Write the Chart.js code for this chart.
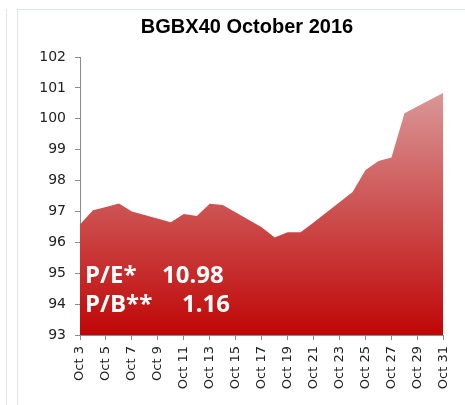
<!DOCTYPE html>
<html>
<head>
<meta charset="utf-8">
<script src="https://cdn.jsdelivr.net/npm/chart.js@4.4.0/dist/chart.umd.min.js"></script>
<style>
  html, body { margin: 0; padding: 0; background: #fff; }
  body { width: 465px; height: 405px; position: relative; overflow: hidden; }
  #leftEdge { position: absolute; left: 6px; top: 9px; width: 1px; height: 400px; background: #dfe5ee; }
  #frame { position: absolute; left: 17px; top: 9px; width: 460px; height: 400px; border-left: 1px solid #dfe5ee; border-top: 1px solid #dfe5ee; }
  #wrap { position: absolute; left: 0; top: 0; width: 465px; height: 405px; }
</style>
</head>
<body>
<div id="leftEdge"></div>
<div id="frame"></div>
<div id="wrap"><canvas id="myChart" width="465" height="405"></canvas></div>
<script>
// dados (dias de pregão de outubro 2016)
const dias = [3, 4, 5, 6, 7, 10, 11, 12, 13, 14, 17, 18, 19, 20, 21, 24, 25, 26, 27, 28, 31];
const valores = [96.58, 97.04, 97.14, 97.26, 97.00, 96.65, 96.92, 96.85, 97.25, 97.21,
  96.49, 96.16, 96.33, 96.33, 96.64, 97.63, 98.34, 98.63, 98.75, 100.18, 100.84];
const titulo = 'BGBX40 October 2016';
const rotulosIndicadores = ['P/E*', 'P/B**'];
const valoresIndicadores = ['10.98', '1.16'];

const pontos = dias.map((d, i) => ({ x: d, y: valores[i] }));

// titulo desenhado a mao (fica um pouco a esquerda do centro da area)
const pluginTitulo = {
  id: 'tituloManual',
  afterDraw(chart) {
    const ctx = chart.ctx;
    ctx.save();
    ctx.fillStyle = '#000';
    ctx.font = 'bold 20px "Liberation Sans", Arial';
    ctx.textAlign = 'center';
    ctx.textBaseline = 'middle';
    ctx.fillText(titulo, 247, 27);
    ctx.restore();
  }
};

// desenha os textos P/E e P/B por cima da area
const pluginIndicadores = {
  id: 'indicadores',
  afterDatasetsDraw(chart) {
    const ctx = chart.ctx;
    const area = chart.chartArea;
    ctx.save();
    ctx.fillStyle = '#ffffff';
    ctx.font = 'bold 24px "Open Sans"';
    ctx.textBaseline = 'alphabetic';
    ctx.textAlign = 'left';
    ctx.fillText(rotulosIndicadores[0], area.left + 5, 283);
    ctx.fillText(valoresIndicadores[0], area.left + 82, 283);
    ctx.fillText(rotulosIndicadores[1], area.left + 5, 312);
    ctx.fillText(valoresIndicadores[1], area.left + 102, 312);
    ctx.restore();
  }
};

function gradiente(context) {
  const chart = context.chart;
  const area = chart.chartArea;
  if (!area) return '#c00000';
  const y = chart.scales.y;
  const g = chart.ctx.createLinearGradient(0, y.getPixelForValue(100.9), 0, area.bottom);
  g.addColorStop(0, 'rgb(218, 152, 152)');
  g.addColorStop(1, 'rgb(192, 6, 6)');
  return g;
}

const ctx = document.getElementById('myChart');
const myChart = new Chart(ctx, {
  type: 'line',
  data: {
    datasets: [{
      data: pontos,
      fill: 'start',
      backgroundColor: gradiente,
      borderWidth: 0,
      pointRadius: 0,
      tension: 0
    }]
  },
  options: {
    responsive: false,
    animation: false,
    layout: { padding: { left: 0, right: 20, top: 57, bottom: 0 } },
    plugins: {
      legend: { display: false },
      tooltip: { enabled: false },
      title: { display: false }
    },
    scales: {
      x: {
        type: 'linear',
        min: 3,
        max: 31,
        afterFit(scale) { scale.height = 70; },
        border: { color: '#8c8c8c', width: 1 },
        grid: { display: true, drawOnChartArea: false, tickLength: 5, color: '#8c8c8c' },
        ticks: {
          stepSize: 2,
          autoSkip: false,
          maxRotation: 90,
          minRotation: 90,
          padding: 6,
          color: '#222',
          font: { family: '"DejaVu Sans"', size: 13 },
          callback: (v) => 'Oct ' + v
        }
      },
      y: {
        min: 93,
        max: 102,
        afterFit(scale) { scale.width = 80; },
        border: { color: '#8c8c8c', width: 1 },
        grid: { display: true, drawOnChartArea: false, tickLength: 5, color: '#8c8c8c' },
        ticks: {
          stepSize: 1,
          padding: 9,
          color: '#222',
          font: { family: '"DejaVu Sans"', size: 14 }
        }
      }
    }
  },
  plugins: [pluginIndicadores, pluginTitulo]
});
</script>
</body>
</html>
